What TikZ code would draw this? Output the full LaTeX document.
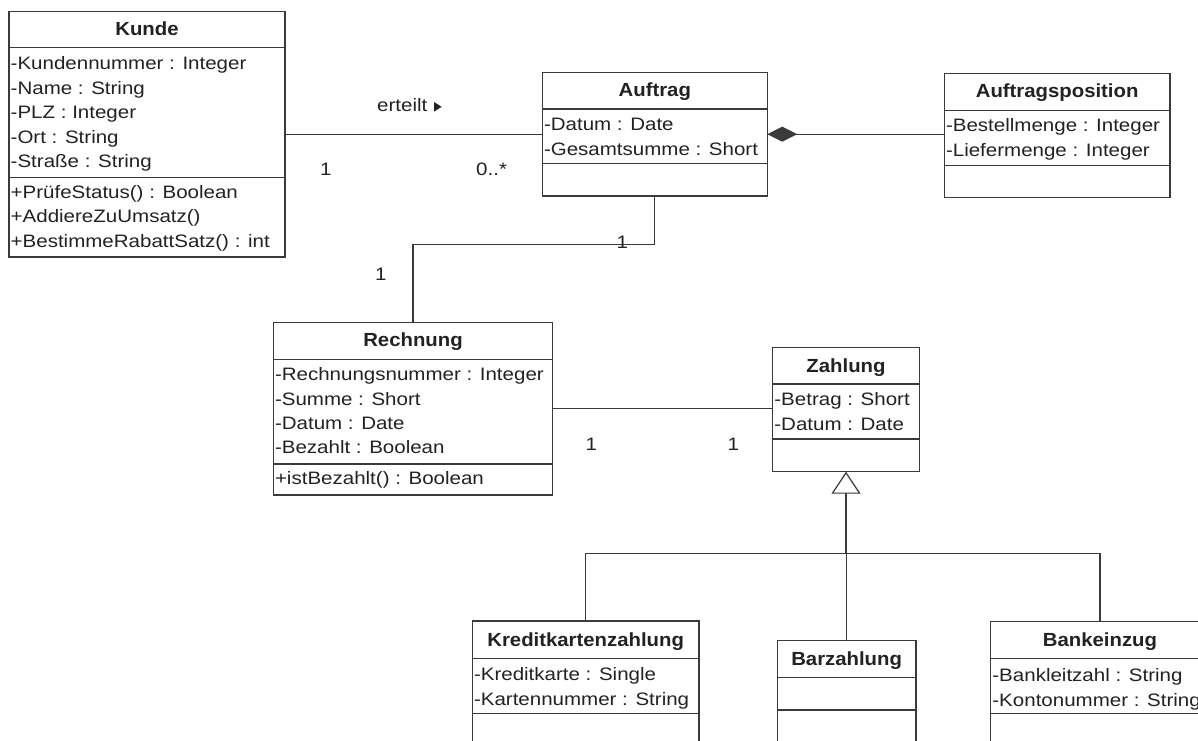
\documentclass[tikz,border=0pt]{standalone}
\usepackage{fontspec}
\usetikzlibrary{calc,arrows.meta}
\newfontfamily\bodyfont{Liberation Sans}[FakeStretch=1.14]
\newfontfamily\headfont{Liberation Sans}[FakeStretch=1.07]
\definecolor{ink}{HTML}{222222}
\definecolor{linegray}{HTML}{3A3A3A}

\begin{document}
\begin{tikzpicture}[x=1pt,y=-1pt,
  cls/.style={draw=linegray, line width=1.2pt, rectangle, inner sep=0pt, outer sep=0pt, anchor=north west, fill=white},
  sep/.style={draw=linegray, line width=1.2pt},
  head/.style={inner sep=0pt, anchor=base, text=ink, font=\headfont\bfseries\fontsize{19}{23}\selectfont},
  attr/.style={inner sep=0pt, anchor=base west, text=ink, font=\bodyfont\fontsize{18}{23}\selectfont},
  link/.style={draw=linegray, line width=1.2pt},
]
\useasboundingbox (0,0) rectangle (1198,740);
\fill[white] (0,0) rectangle (1198,740);
\clip (0,0) rectangle (1198,740);

% ---------- Kunde ----------
\node[cls, minimum width=276pt, minimum height=245.5pt] (kunde) at (9,11.5) {};
\draw[sep] ($(kunde.north west)+(0,36.2)$) -- ($(kunde.north east)+(0,36.2)$);
\draw[sep] ($(kunde.north west)+(0,166.2)$) -- ($(kunde.north east)+(0,166.2)$);
\node[head] (kunde-t) at ($(kunde.north)+(0,23.8)$) {Kunde};
\node[attr] (kunde-a1) at ($(kunde.north west)+(1.5,58)$) {-Kundennummer : Integer};
\node[attr] (kunde-a2) at ($(kunde.north west)+(1.5,82.5)$) {-Name : String};
\node[attr] (kunde-a3) at ($(kunde.north west)+(1.5,107)$) {-PLZ : Integer};
\node[attr] (kunde-a4) at ($(kunde.north west)+(1.5,131.5)$) {-Ort : String};
\node[attr] (kunde-a5) at ($(kunde.north west)+(1.5,156)$) {-Straße : String};
\node[attr] (kunde-m1) at ($(kunde.north west)+(1.5,186.5)$) {+PrüfeStatus() : Boolean};
\node[attr] (kunde-m2) at ($(kunde.north west)+(1.5,211)$) {+AddiereZuUmsatz()};
\node[attr] (kunde-m3) at ($(kunde.north west)+(1.5,235.5)$) {+BestimmeRabattSatz() : int};

% ---------- Auftrag ----------
\node[cls, minimum width=225pt, minimum height=123.7pt] (auftrag) at (542.3,72.3) {};
\draw[sep] ($(auftrag.north west)+(0,36.7)$) -- ($(auftrag.north east)+(0,36.7)$);
\draw[sep] ($(auftrag.north west)+(0,91.4)$) -- ($(auftrag.north east)+(0,91.4)$);
\node[head] (auftrag-t) at ($(auftrag.north)+(0,24)$) {Auftrag};
\node[attr] (auftrag-a1) at ($(auftrag.north west)+(1.5,57.7)$) {-Datum : Date};
\node[attr] (auftrag-a2) at ($(auftrag.north west)+(1.5,82.7)$) {-Gesamtsumme : Short};

% ---------- Auftragsposition ----------
\node[cls, minimum width=225.7pt, minimum height=124pt] (apos) at (944.3,73.3) {};
\draw[sep] ($(apos.north west)+(0,37.4)$) -- ($(apos.north east)+(0,37.4)$);
\draw[sep] ($(apos.north west)+(0,92)$) -- ($(apos.north east)+(0,92)$);
\node[head] (apos-t) at ($(apos.north)+(0,24.2)$) {Auftragsposition};
\node[attr] (apos-a1) at ($(apos.north west)+(1.5,58.4)$) {-Bestellmenge : Integer};
\node[attr] (apos-a2) at ($(apos.north west)+(1.5,83.4)$) {-Liefermenge : Integer};

% ---------- Rechnung ----------
\node[cls, minimum width=279.4pt, minimum height=172.7pt] (rechnung) at (273.3,322.3) {};
\draw[sep] ($(rechnung.north west)+(0,37)$) -- ($(rechnung.north east)+(0,37)$);
\draw[sep] ($(rechnung.north west)+(0,141.7)$) -- ($(rechnung.north east)+(0,141.7)$);
\node[head] (rechnung-t) at ($(rechnung.north)+(0,23.8)$) {Rechnung};
\node[attr] (rechnung-a1) at ($(rechnung.north west)+(1.5,58.4)$) {-Rechnungsnummer : Integer};
\node[attr] (rechnung-a2) at ($(rechnung.north west)+(1.5,83)$) {-Summe : Short};
\node[attr] (rechnung-a3) at ($(rechnung.north west)+(1.5,107.3)$) {-Datum : Date};
\node[attr] (rechnung-a4) at ($(rechnung.north west)+(1.5,131.5)$) {-Bezahlt : Boolean};
\node[attr] (rechnung-m1) at ($(rechnung.north west)+(1.5,162)$) {+istBezahlt() : Boolean};

% ---------- Zahlung ----------
\node[cls, minimum width=146.6pt, minimum height=124.4pt] (zahlung) at (772.7,347.3) {};
\draw[sep] ($(zahlung.north west)+(0,36.7)$) -- ($(zahlung.north east)+(0,36.7)$);
\draw[sep] ($(zahlung.north west)+(0,91.7)$) -- ($(zahlung.north east)+(0,91.7)$);
\node[head] (zahlung-t) at ($(zahlung.north)+(0,25.3)$) {Zahlung};
\node[attr] (zahlung-a1) at ($(zahlung.north west)+(1.5,57.7)$) {-Betrag : Short};
\node[attr] (zahlung-a2) at ($(zahlung.north west)+(1.5,82.7)$) {-Datum : Date};

% ---------- Kreditkartenzahlung ----------
\node[cls, minimum width=226.7pt, minimum height=130pt] (kredit) at (472.3,621) {};
\draw[sep] ($(kredit.north west)+(0,37.3)$) -- ($(kredit.north east)+(0,37.3)$);
\draw[sep] ($(kredit.north west)+(0,92.3)$) -- ($(kredit.north east)+(0,92.3)$);
\node[head] (kredit-t) at ($(kredit.north)+(0,25.5)$) {Kreditkartenzahlung};
\node[attr] (kredit-a1) at ($(kredit.north west)+(1.5,59)$) {-Kreditkarte : Single};
\node[attr] (kredit-a2) at ($(kredit.north west)+(1.5,84.5)$) {-Kartennummer : String};

% ---------- Barzahlung ----------
\node[cls, minimum width=138.7pt, minimum height=110pt] (bar) at (777.3,640.7) {};
\draw[sep] ($(bar.north west)+(0,37)$) -- ($(bar.north east)+(0,37)$);
\draw[sep] ($(bar.north west)+(0,69.3)$) -- ($(bar.north east)+(0,69.3)$);
\node[head] (bar-t) at ($(bar.north)+(0,24.5)$) {Barzahlung};

% ---------- Bankeinzug ----------
\node[cls, minimum width=218.6pt, minimum height=130pt] (bank) at (990.7,621.7) {};
\draw[sep] ($(bank.north west)+(0,36.6)$) -- ($(bank.north east)+(0,36.6)$);
\draw[sep] ($(bank.north west)+(0,91.6)$) -- ($(bank.north east)+(0,91.6)$);
\node[head] (bank-t) at ($(bank.north)+(0,25)$) {Bankeinzug};
\node[attr] (bank-a1) at ($(bank.north west)+(1.5,60)$) {-Bankleitzahl : String};
\node[attr] (bank-a2) at ($(bank.north west)+(1.5,84.3)$) {-Kontonummer : String};

% ---------- associations ----------
\draw[link] (kunde.east) -- (kunde.east -| auftrag.west);
\node[attr] (erteilt) at (377,111.5) {erteilt};
\fill[ink] ($(erteilt.base east)+(6.5,-9.5)$) -- ++(7.5,4.8) -- ++(-7.5,4.8) -- cycle;
\node[attr] (m-kunde) at (319.8,175) {1};
\node[attr] (m-auftrag) at (476,175) {0..*};

\draw[link, -{Diamond[length=30pt,width=15pt]}] (auftrag.east -| apos.west) -- (auftrag.east);

\draw[link] (auftrag.south) -- ++(0,48.7) -| (rechnung.north);
\node[attr] (m-auftrag2) at (616.3,248.5) {1};
\node[attr] (m-rechnung) at (375,280) {1};

\draw[link] (rechnung.east) -- (rechnung.east -| zahlung.west);
\node[attr] (m-rechnung2) at (585.3,450) {1};
\node[attr] (m-zahlung) at (727.3,450) {1};

% ---------- generalization ----------
\coordinate (gen) at ($(zahlung.south)+(0,82)$);
\draw[link] (kredit.north) |- (gen) -| (bank.north);
\draw[link] (bar.north) -- (bar.north |- gen);
\draw[link, -{Triangle[open, fill=white, length=22pt, width=29pt]}] (gen) -- (zahlung.south);

\end{tikzpicture}
\end{document}
